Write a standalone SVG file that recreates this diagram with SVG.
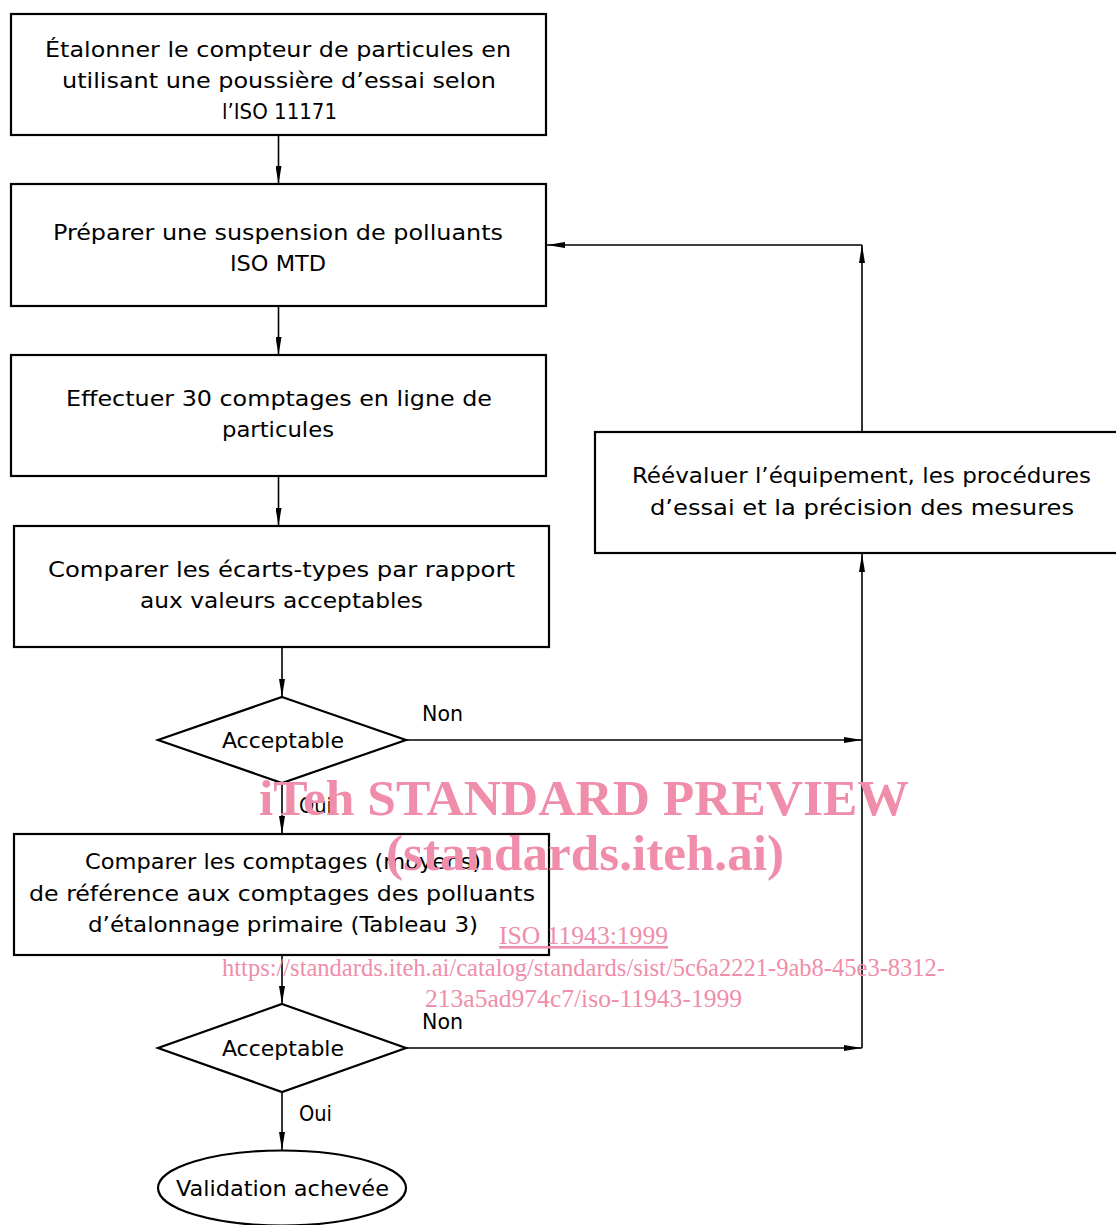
<svg xmlns="http://www.w3.org/2000/svg" width="1116" height="1225" viewBox="0 0 1116 1225">
<defs>
<style>
.box{fill:#fff;stroke:#000;stroke-width:2.2}
.t{font-family:"DejaVu Sans Condensed","Liberation Sans Narrow","Liberation Sans",sans-serif;font-size:21px;fill:#000}
.c{fill:none;stroke:#000;stroke-width:1.6}
.wm{font-family:"Liberation Serif",serif;fill:#ef8dab}
</style>
<marker id="ah" markerWidth="18" markerHeight="6" refX="18" refY="3" orient="auto" markerUnits="userSpaceOnUse">
<path d="M0,0 L18,3 L0,6 z" fill="#000"/>
</marker>
</defs>
<rect width="1116" height="1225" fill="#fff"/>

<g id="connectors">
<path class="c" d="M278.5,135 V184" marker-end="url(#ah)"/>
<path class="c" d="M278.5,306 V355" marker-end="url(#ah)"/>
<path class="c" d="M278.5,476 V526" marker-end="url(#ah)"/>
<path class="c" d="M282,647 V697" marker-end="url(#ah)"/>
<path class="c" d="M282,783 V834" marker-end="url(#ah)"/>
<path class="c" d="M282,955 V1004" marker-end="url(#ah)"/>
<path class="c" d="M282,1092 V1150" marker-end="url(#ah)"/>
<path class="c" d="M406,740 H862" marker-end="url(#ah)"/>
<path class="c" d="M406,1048 H862" marker-end="url(#ah)"/>
<path class="c" d="M862,1048 V554" marker-end="url(#ah)"/>
<path class="c" d="M862,432 V245" marker-end="url(#ah)"/>
<path class="c" d="M862,245 H547" marker-end="url(#ah)"/>
<text class="t" x="422" y="721" textLength="41" lengthAdjust="spacingAndGlyphs">Non</text>
<text class="t" x="299" y="813" textLength="33" lengthAdjust="spacingAndGlyphs">Oui</text>
<text class="t" x="422" y="1029" textLength="41" lengthAdjust="spacingAndGlyphs">Non</text>
<text class="t" x="299" y="1121" textLength="33" lengthAdjust="spacingAndGlyphs">Oui</text>
</g>

<g id="n1">
<rect class="box" x="11" y="14" width="535" height="121"/>
<text class="t" x="45" y="57" textLength="466" lengthAdjust="spacingAndGlyphs">Étalonner le compteur de particules en</text>
<text class="t" x="62" y="88" textLength="434" lengthAdjust="spacingAndGlyphs">utilisant une poussière d’essai selon</text>
<text class="t" x="222" y="119" textLength="115" lengthAdjust="spacingAndGlyphs">l’ISO 11171</text>
</g>

<g id="n2">
<rect class="box" x="11" y="184" width="535" height="122"/>
<text class="t" x="53" y="240" textLength="450" lengthAdjust="spacingAndGlyphs">Préparer une suspension de polluants</text>
<text class="t" x="230" y="271" textLength="96" lengthAdjust="spacingAndGlyphs">ISO MTD</text>
</g>

<g id="n3">
<rect class="box" x="11" y="355" width="535" height="121"/>
<text class="t" x="66" y="406" textLength="426" lengthAdjust="spacingAndGlyphs">Effectuer 30 comptages en ligne de</text>
<text class="t" x="222" y="437" textLength="112" lengthAdjust="spacingAndGlyphs">particules</text>
</g>

<g id="n4">
<rect class="box" x="14" y="526" width="535" height="121"/>
<text class="t" x="48" y="577" textLength="467" lengthAdjust="spacingAndGlyphs">Comparer les écarts-types par rapport</text>
<text class="t" x="140" y="608" textLength="283" lengthAdjust="spacingAndGlyphs">aux valeurs acceptables</text>
</g>

<g id="d1">
<polygon class="box" points="282,697 406,740 282,783 158,740"/>
<text class="t" x="222" y="748" textLength="122" lengthAdjust="spacingAndGlyphs">Acceptable</text>
</g>

<g id="n5">
<rect class="box" x="14" y="834" width="535" height="121"/>
<text class="t" x="85" y="869" textLength="396" lengthAdjust="spacingAndGlyphs">Comparer les comptages (moyens)</text>
<text class="t" x="29" y="901" textLength="506" lengthAdjust="spacingAndGlyphs">de référence aux comptages des polluants</text>
<text class="t" x="88" y="932" textLength="390" lengthAdjust="spacingAndGlyphs">d’étalonnage primaire (Tableau 3)</text>
</g>

<g id="d2">
<polygon class="box" points="282,1004 406,1048 282,1092 158,1048"/>
<text class="t" x="222" y="1056" textLength="122" lengthAdjust="spacingAndGlyphs">Acceptable</text>
</g>

<g id="end">
<ellipse class="box" cx="282" cy="1188" rx="124" ry="37.5"/>
<text class="t" x="176" y="1196" textLength="213" lengthAdjust="spacingAndGlyphs">Validation achevée</text>
</g>

<g id="n6">
<rect class="box" x="595" y="432" width="540" height="121"/>
<text class="t" x="632" y="483" textLength="459" lengthAdjust="spacingAndGlyphs">Réévaluer l’équipement, les procédures</text>
<text class="t" x="650" y="515" textLength="424" lengthAdjust="spacingAndGlyphs">d’essai et la précision des mesures</text>
</g>

<g id="watermark">
<text class="wm" x="259" y="815" font-size="50" font-weight="bold" textLength="650" lengthAdjust="spacingAndGlyphs">iTeh STANDARD PREVIEW</text>
<text class="wm" x="386" y="870" font-size="50" font-weight="bold" textLength="398" lengthAdjust="spacingAndGlyphs">(standards.iteh.ai)</text>
<text class="wm" x="499" y="944" font-size="26" text-decoration="underline" textLength="169" lengthAdjust="spacingAndGlyphs">ISO 11943:1999</text>
<text class="wm" x="222" y="976" font-size="26" textLength="723" lengthAdjust="spacingAndGlyphs">https://standards.iteh.ai/catalog/standards/sist/5c6a2221-9ab8-45e3-8312-</text>
<text class="wm" x="425" y="1007" font-size="26" textLength="317" lengthAdjust="spacingAndGlyphs">213a5ad974c7/iso-11943-1999</text>
</g>
</svg>
